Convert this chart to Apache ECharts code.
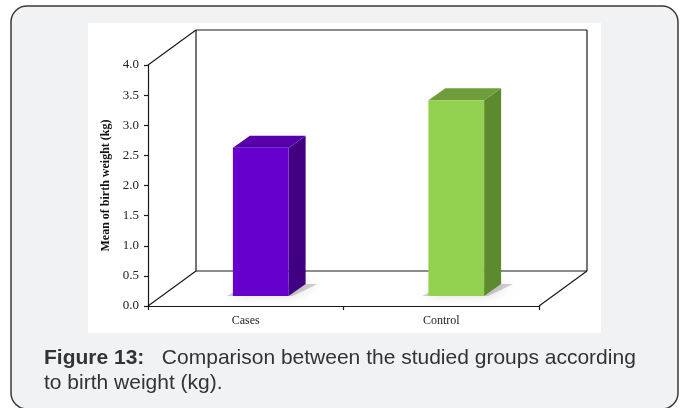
<!DOCTYPE html>
<html>
<head>
<meta charset="utf-8">
<script src="https://cdn.jsdelivr.net/npm/echarts@6/dist/echarts.min.js"></script>
<style>
  html, body { margin: 0; padding: 0; background: #ffffff; }
  #chart { width: 683px; height: 408px; }
</style>
</head>
<body>
<div id="chart"></div>
<script>
// Mean birth weight per studied group
const categories = ['Cases', 'Control'];
const birthWeight = [2.46, 3.25];

// Value axis range and step
const yMin = 0;
const yMax = 4;
const yStep = 0.5;

const captionBold = 'Figure 13:';
const captionLine1 = 'Comparison between the studied groups according';
const captionLine2 = 'to birth weight (kg).';
const yAxisTitle = 'Mean of birth weight (kg)';

// Face colours for each column: front, side, top
const faceColors = [
  { front: '#6600cc', side: '#41007f', top: '#5500aa' },
  { front: '#92d050', side: '#5e8a2f', top: '#6f9d3b' }
];

// Perspective offsets for the box (back wall) and for the columns
const WALL_DX = 48, WALL_DY = -35;
const BAR_SHIFT_X = 15, BAR_SHIFT_Y = -10;
const BAR_DX = 17, BAR_DY = -12;

const chart = echarts.init(document.getElementById('chart'));

function renderWall(params, api) {
  const cs = params.coordSys;
  const x0 = cs.x, x1 = cs.x + cs.width;
  const y0 = cs.y, y1 = cs.y + cs.height;
  const bx0 = x0 + WALL_DX, bx1 = x1 + WALL_DX;
  const by0 = y0 + WALL_DY, by1 = y1 + WALL_DY;
  const ln = { stroke: '#1a1a1a', lineWidth: 1.2, fill: null };
  const seg = (a, b, c, d) => ({ type: 'line', shape: { x1: a, y1: b, x2: c, y2: d }, style: ln, silent: true });
  return {
    type: 'group',
    children: [
      { type: 'rect', shape: { x: bx0, y: by0, width: bx1 - bx0, height: by1 - by0 }, style: { fill: '#ffffff' }, silent: true },
      seg(bx0, by0, bx1, by0),
      seg(bx0, by0, bx0, by1),
      seg(bx1, by0, bx1, by1),
      seg(bx0, by1, bx1, by1),
      seg(x0, y0, bx0, by0),
      seg(x0, y1, bx0, by1),
      seg(x1, y1, bx1, by1)
    ]
  };
}

function renderBar(params, api) {
  const i = api.value(0);
  const v = api.value(1);
  const base = api.coord([i, 0]);
  const top = api.coord([i, v]);
  const band = api.size([1, 0])[0];
  const w = band * 0.285;
  const cx = base[0] + BAR_SHIFT_X;
  const L = cx - w / 2, R = cx + w / 2;
  const B = base[1] + BAR_SHIFT_Y, T = top[1] + BAR_SHIFT_Y;
  const c = faceColors[i % faceColors.length];
  return {
    type: 'group',
    children: [
      {
        type: 'polygon',
        shape: { points: [[L - 6, B], [R + 4, B], [R + BAR_DX + 12, B + BAR_DY], [L + BAR_DX, B + BAR_DY]] },
        style: { fill: 'rgba(90,90,90,0.28)', shadowBlur: 12, shadowColor: 'rgba(0,0,0,0.5)' }
      },
      {
        type: 'polygon',
        shape: { points: [[R, B], [R, T], [R + BAR_DX, T + BAR_DY], [R + BAR_DX, B + BAR_DY]] },
        style: { fill: c.side }
      },
      {
        type: 'polygon',
        shape: { points: [[L, T], [R, T], [R + BAR_DX, T + BAR_DY], [L + BAR_DX, T + BAR_DY]] },
        style: { fill: c.top }
      },
      {
        type: 'rect',
        shape: { x: L, y: T, width: R - L, height: B - T },
        style: { fill: c.front }
      }
    ]
  };
}

const serif = '"Liberation Serif", "Times New Roman", serif';
const sans = '"Liberation Sans", Arial, sans-serif';

chart.setOption({
  animation: false,
  backgroundColor: '#ffffff',
  graphic: [
    {
      type: 'rect', z: -10,
      shape: { x: 11, y: 6, width: 667, height: 403, r: 16 },
      style: { fill: '#f1f2f4', stroke: '#3a3a3a', lineWidth: 1.5 },
      silent: true
    },
    {
      type: 'rect', z: -9,
      shape: { x: 88, y: 23, width: 513, height: 310 },
      style: { fill: '#ffffff' },
      silent: true
    },
    {
      type: 'text', z: 10, left: 44, top: 346,
      style: {
        text: '{b|' + captionBold + '}   ' + captionLine1 + '\n' + captionLine2,
        font: '21px ' + sans,
        fill: '#333333',
        lineHeight: 25,
        rich: {
          b: { fontWeight: 'bold', fontSize: 21, fontFamily: sans, fill: '#333333', lineHeight: 25 }
        }
      }
    }
  ],
  grid: { left: 148, top: 65, width: 391, height: 241, containLabel: false },
  xAxis: {
    type: 'category',
    data: categories,
    boundaryGap: true,
    axisLine: { show: true, lineStyle: { color: '#1a1a1a', width: 1.2 } },
    axisTick: { show: true, length: 4, lineStyle: { color: '#1a1a1a', width: 1.2 } },
    axisLabel: { color: '#222222', fontFamily: serif, fontSize: 12, margin: 9 },
    z: 5
  },
  yAxis: {
    type: 'value',
    min: yMin, max: yMax, interval: yStep,
    name: yAxisTitle,
    nameLocation: 'middle',
    nameRotate: 90,
    nameGap: 36,
    nameTextStyle: { fontFamily: serif, fontSize: 12, fontWeight: 'bold', color: '#111111' },
    axisLine: { show: true, lineStyle: { color: '#1a1a1a', width: 1.2 } },
    axisTick: { show: true, length: 4, lineStyle: { color: '#1a1a1a', width: 1.2 } },
    axisLabel: {
      color: '#222222', fontFamily: serif, fontSize: 13, margin: 9,
      formatter: v => v.toFixed(1)
    },
    splitLine: { show: false },
    z: 5
  },
  series: [
    {
      type: 'custom',
      name: 'wall',
      z: 1,
      silent: true,
      renderItem: renderWall,
      data: [[0, 0]]
    },
    {
      type: 'custom',
      name: 'Mean birth weight',
      z: 3,
      renderItem: renderBar,
      encode: { x: 0, y: 1 },
      data: categories.map((c, i) => [i, birthWeight[i]])
    }
  ]
});
</script>
</body>
</html>
